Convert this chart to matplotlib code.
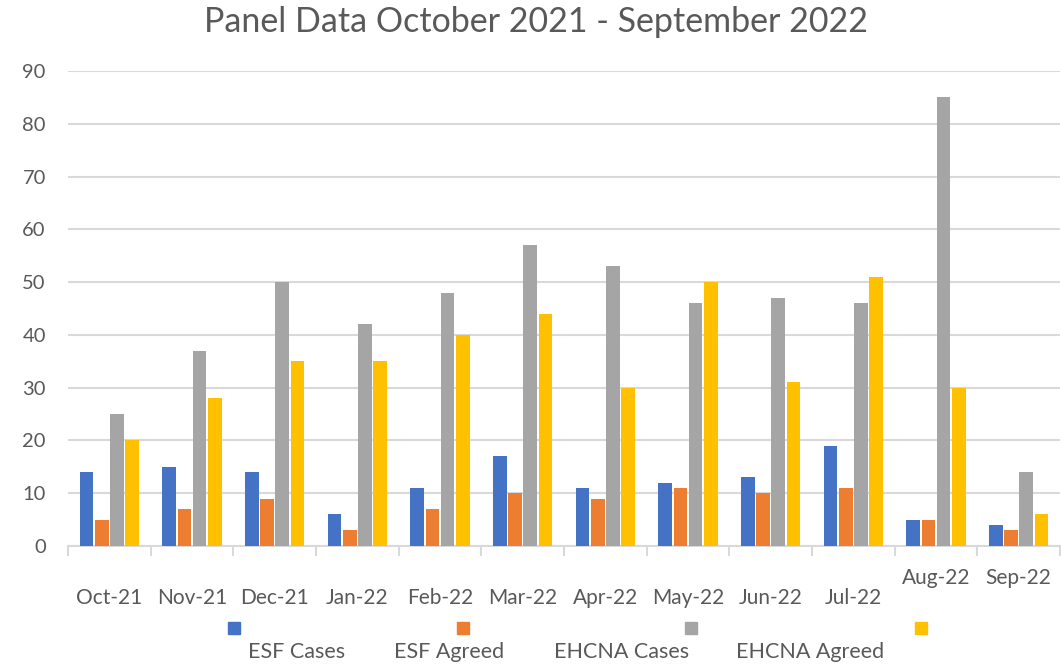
import matplotlib
matplotlib.use("Agg")
import matplotlib.pyplot as plt
from matplotlib.patches import Rectangle
import numpy as np

plt.rcParams['font.family'] = ['Lato', 'DejaVu Sans']

# dados do gráfico
months = ["Oct-21", "Nov-21", "Dec-21", "Jan-22", "Feb-22", "Mar-22",
          "Apr-22", "May-22", "Jun-22", "Jul-22", "Aug-22", "Sep-22"]
esf_cases = [14, 15, 14, 6, 11, 17, 11, 12, 13, 19, 5, 4]
esf_agreed = [5, 7, 9, 3, 7, 10, 9, 11, 10, 11, 5, 3]
ehcna_cases = [25, 37, 50, 42, 48, 57, 53, 46, 47, 46, 85, 14]
ehcna_agreed = [20, 28, 35, 35, 40, 44, 30, 50, 31, 51, 30, 6]

series = [("ESF Cases", esf_cases, "#4472C4"),
          ("ESF Agreed", esf_agreed, "#ED7D31"),
          ("EHCNA Cases", ehcna_cases, "#A5A5A5"),
          ("EHCNA Agreed", ehcna_agreed, "#FFC000")]

text_color = "#595959"
grid_color = "#D9D9D9"

fig = plt.figure(figsize=(10.61, 6.65), dpi=100)
ax = fig.add_axes([68 / 1061, (665 - 546) / 665, (1060 - 68) / 1061, (546 - 71) / 665])

x = np.arange(len(months))
w = 0.165
step = 0.185
for i, (name, vals, col) in enumerate(series):
    ax.bar(x + (i - 1.5) * step, vals, width=w, color=col, zorder=3)

ax.set_xlim(-0.5, len(months) - 0.5)
ax.set_ylim(0, 90)
ax.set_yticks(range(0, 91, 10))
ax.grid(axis='y', color=grid_color, linewidth=1.5, zorder=0)

for s in ['top', 'right', 'left']:
    ax.spines[s].set_visible(False)
ax.spines['bottom'].set_color(grid_color)
ax.spines['bottom'].set_linewidth(1.5)

ax.tick_params(axis='y', length=0, labelsize=14.5, labelcolor=text_color, pad=16)
ax.set_xticks(np.arange(-0.5, len(months), 1.0))
ax.set_xticklabels([])
ax.tick_params(axis='x', length=7, width=1.5, color=grid_color)

# rótulos do eixo x (os dois últimos ficam mais acima, como no original)
for i, m in enumerate(months):
    yy = -0.067 if i >= 10 else -0.109
    ax.text(i, yy, m, transform=ax.get_xaxis_transform(), ha='center',
            va='center', fontsize=15, color=text_color)

fig.text(536 / 1061, 1 - 22 / 665, "Panel Data October 2021 - September 2022",
         ha='center', va='center', fontsize=24.5, color=text_color)

# legenda manual
marker_x = [228, 457, 685, 915]
label_x = [297, 449, 622, 810]
for (name, vals, col), mx, lx in zip(series, marker_x, label_x):
    fig.add_artist(Rectangle((mx / 1061, 1 - 634 / 665), 12 / 1061, 12 / 665,
                             transform=fig.transFigure, color=col))
    fig.text(lx / 1061, 1 - 652 / 665, name, ha='center', va='center',
             fontsize=15.5, color=text_color)

plt.savefig("out.png", dpi=100)
